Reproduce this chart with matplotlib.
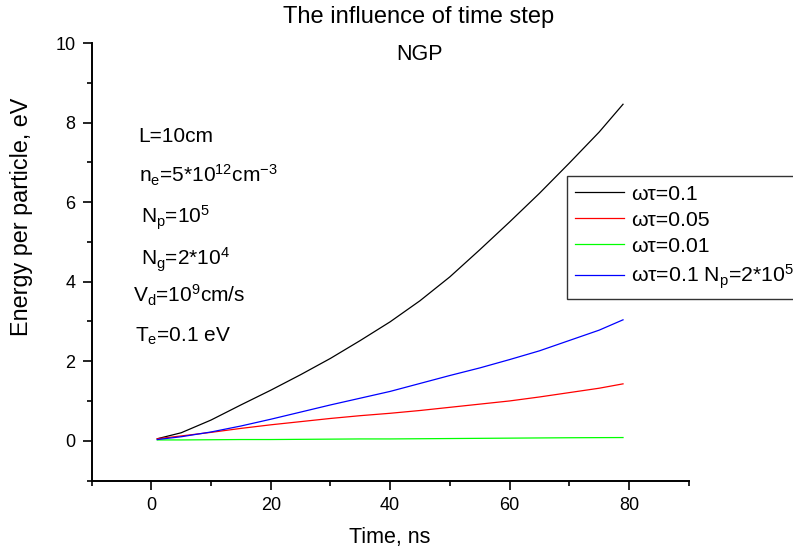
import matplotlib
matplotlib.use("Agg")
import matplotlib.pyplot as plt
from matplotlib.ticker import FixedLocator

plt.rcParams['font.family'] = ['Liberation Sans', 'DejaVu Sans']
plt.rcParams['mathtext.fontset'] = 'custom'
plt.rcParams['mathtext.rm'] = 'Liberation Sans'
plt.rcParams['mathtext.it'] = 'Liberation Sans'
plt.rcParams['mathtext.bf'] = 'Liberation Sans:bold'

# ---- data ----
time_ns = [1, 5, 10, 15, 20, 25, 30, 35, 40, 45, 50, 55, 60, 65, 70, 75, 79]
e_wt01 = [0.05, 0.2, 0.52, 0.9, 1.27, 1.66, 2.07, 2.52, 2.99, 3.52, 4.12, 4.8, 5.5, 6.22, 6.98, 7.76, 8.46]
e_wt005 = [0.05, 0.12, 0.21, 0.31, 0.4, 0.48, 0.56, 0.63, 0.69, 0.76, 0.84, 0.92, 1.0, 1.1, 1.21, 1.32, 1.43]
e_wt001 = [0.02, 0.02, 0.025, 0.03, 0.03, 0.035, 0.04, 0.045, 0.045, 0.05, 0.055, 0.06, 0.065, 0.07, 0.075, 0.078, 0.08]
e_wt01_np2 = [0.03, 0.1, 0.22, 0.37, 0.54, 0.72, 0.9, 1.07, 1.24, 1.44, 1.64, 1.83, 2.04, 2.26, 2.52, 2.78, 3.04]

labels = ['ωτ=0.1', 'ωτ=0.05', 'ωτ=0.01', r'ωτ=0.1 N$_\mathrm{p}$=2*10$^\mathrm{5}$']
colors = ['#000000', '#ff0000', '#00ff00', '#0000ff']

x_major = [0, 20, 40, 60, 80]
x_minor = [-10, 10, 30, 50, 70, 90]
y_major = [0, 2, 4, 6, 8, 10]
y_minor = [-1, 1, 3, 5, 7, 9]

notes = ['L=10cm',
         r'n$_\mathrm{e}$=5*10$^\mathrm{12}$cm$^\mathrm{-3}$',
         r'N$_\mathrm{p}$=10$^\mathrm{5}$',
         r'N$_\mathrm{g}$=2*10$^\mathrm{4}$',
         r'V$_\mathrm{d}$=10$^\mathrm{9}$cm/s',
         r'T$_\mathrm{e}$=0.1 eV']
note_pos = [(138, 141.7), (139, 182.7), (140.7, 224), (140.7, 265), (133.3, 303), (135, 341.7)]

W, H = 793, 552
fig = plt.figure(figsize=(W / 100, H / 100), dpi=100)
ax = fig.add_axes([91.6 / W, 1 - 480.5 / H, (688.7 - 91.6) / W, (480.5 - 43) / H])

for ys, lab, c in zip([e_wt01, e_wt005, e_wt001, e_wt01_np2], labels, colors):
    ax.plot(time_ns, ys, color=c, lw=0.9, label=lab)

ax.set_xlim(-10, 90)
ax.set_ylim(-1, 10)
ax.spines['top'].set_visible(False)
ax.spines['right'].set_visible(False)
for s in ('left', 'bottom'):
    ax.spines[s].set_linewidth(1.4)
ax.xaxis.set_major_locator(FixedLocator(x_major))
ax.xaxis.set_minor_locator(FixedLocator(x_minor))
ax.yaxis.set_major_locator(FixedLocator(y_major))
ax.yaxis.set_minor_locator(FixedLocator(y_minor))
ax.tick_params(which='major', direction='out', length=6.7, width=1.2, labelsize=13, pad=5)
ax.tick_params(which='minor', direction='out', length=3.3, width=1.2)

fig.text(22 / W, 1 - 217 / H, 'Energy per particle, eV', rotation=90,
         ha='center', va='center', fontsize=16.8)
fig.text(390 / W, 1 - 543 / H, 'Time, ns', ha='center', va='baseline', fontsize=15.5)
fig.text(419 / W, 1 - 22.7 / H, 'The influence of time step', ha='center', va='baseline', fontsize=17)
fig.text(420 / W, 1 - 60 / H, 'NGP', ha='center', va='baseline', fontsize=15.5)

for txt, (px, py) in zip(notes, note_pos):
    fig.text(px / W, 1 - py / H, txt, ha='left', va='baseline', fontsize=15)

leg = ax.legend(loc='upper left', bbox_to_anchor=(566.7 / W, 1 - 176 / H),
                bbox_transform=fig.transFigure, borderaxespad=0, fontsize=15.3,
                handlelength=2.3, handletextpad=0.33, labelspacing=0.33,
                borderpad=0.4, fancybox=False, framealpha=1, edgecolor='#333333')
leg.get_frame().set_linewidth(1.0)

fig.savefig('out.png', dpi=100)
